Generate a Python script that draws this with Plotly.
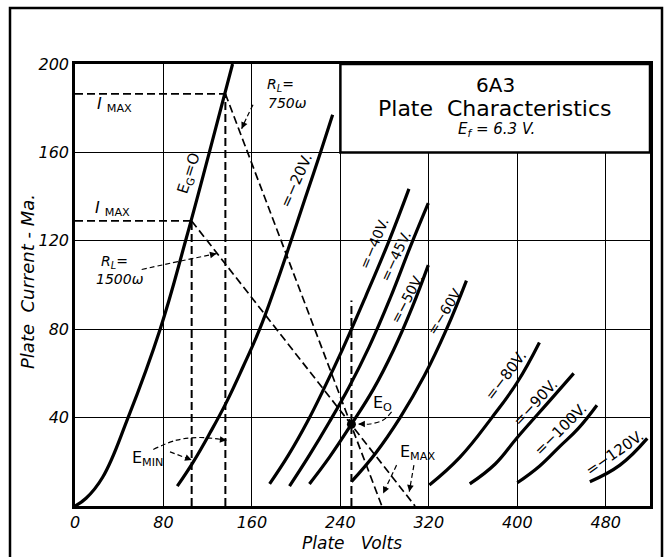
import plotly.graph_objects as go
import math

# ---------------- data ----------------
x_ticks = [0, 80, 160, 240, 320, 400, 480]
y_ticks = [40, 80, 120, 160, 200]

eg0_v = [0, 10, 25, 48, 77, 100, 121.5, 142.5]
eg0_ma = [0, 3.5, 13, 40, 80, 120, 160, 200]

eg20_v = [92.5, 107, 122, 137, 152, 167, 181, 194, 208, 222, 233]
eg20_ma = [9, 20, 33, 47, 63, 80, 99, 118, 139, 160, 177]

eg40_v = [176, 193, 210, 226, 242, 263, 284, 302]
eg40_ma = [10, 23, 38, 54, 71, 95, 120, 143.5]

eg45_v = [194, 212, 230, 248, 266, 285, 303, 319.5]
eg45_ma = [9, 23, 38, 54, 72, 94, 117, 137]

eg50_v = [212, 230, 250, 270, 288, 305, 319.5]
eg50_ma = [10, 22, 37, 53, 70.5, 90, 109]

eg60_v = [250, 272, 294, 316, 336, 354]
eg60_ma = [11, 24, 40, 59, 80, 102]

eg80_v = [320.5, 348, 377, 400, 420]
eg80_ma = [9.5, 22, 40, 56, 74]

eg90_v = [357, 380, 400, 430, 451]
eg90_ma = [10, 19, 31, 48, 60]

eg100_v = [400, 420, 438.5, 455, 472]
eg100_ma = [10.5, 18, 27, 35, 45.6]

eg120_v = [465.6, 492.8, 517.5]
eg120_ma = [11, 18.5, 30.6]

load1500_v = [105.5, 250, 307.5]
load1500_ma = [129, 37, 0]
load750_v = [136, 250, 277.5]
load750_ma = [186.5, 37, 0]

imax_1500 = 129
imax_750 = 186.5
emin_1500 = 105.5
emin_750 = 136
e0_v = 250
e0_ma = 37
e0_line_top = 93

# ---------------- layout geometry ----------------
W, H = 669, 557
ML, MR, MT, MB = 75, 19, 64, 51
PW, PH = W - ML - MR, H - MT - MB
XMAX, YMAX = 520, 200
PXV = PW / XMAX
PXM = PH / YMAX

FONT = "DejaVu Sans"
fig = go.Figure()

curve_line = dict(color="black", width=3.2, shape="spline", smoothing=1.2)
for xs, ys in [(eg0_v, eg0_ma), (eg20_v, eg20_ma), (eg40_v, eg40_ma), (eg45_v, eg45_ma),
               (eg50_v, eg50_ma), (eg60_v, eg60_ma), (eg80_v, eg80_ma), (eg90_v, eg90_ma),
               (eg100_v, eg100_ma), (eg120_v, eg120_ma)]:
    fig.add_trace(go.Scatter(x=xs, y=ys, mode="lines", line=curve_line, hoverinfo="skip"))

dash_line = dict(color="black", width=1.7, dash="8px,4px")
# load lines
fig.add_trace(go.Scatter(x=load1500_v, y=load1500_ma, mode="lines", line=dash_line))
fig.add_trace(go.Scatter(x=load750_v, y=load750_ma, mode="lines", line=dash_line))
# I max horizontals
fig.add_trace(go.Scatter(x=[0, emin_1500], y=[imax_1500, imax_1500], mode="lines", line=dash_line))
fig.add_trace(go.Scatter(x=[0, emin_750], y=[imax_750, imax_750], mode="lines", line=dash_line))
# verticals
vert_line = dict(color="black", width=2, dash="8px,4px")
fig.add_trace(go.Scatter(x=[emin_1500, emin_1500], y=[0, imax_1500], mode="lines", line=vert_line))
fig.add_trace(go.Scatter(x=[emin_750, emin_750], y=[0, imax_750], mode="lines", line=vert_line))
fig.add_trace(go.Scatter(x=[e0_v, e0_v], y=[0, e0_line_top], mode="lines", line=vert_line))
# operating point
fig.add_trace(go.Scatter(x=[e0_v], y=[e0_ma], mode="markers",
                         marker=dict(color="black", size=9)))

# dashed pointer paths (annotation leaders)
thin_dash = dict(color="black", width=1.2, dash="5px,3px", shape="spline")
pointer_paths = [
    ([161, 156, 150.7], [181.6, 176.5, 170.7]),                  # R_L = 750
    ([60.3, 95, 128], [107, 110.8, 114.2]),                       # R_L = 1500
    ([286.3, 278.8, 266.7, 256.2], [42.6, 38.9, 37.1, 37.1]),     # E0
    ([290.8, 278.7], [18.5, 5.7]),                                # Emax 1
    ([306.5, 302.3], [18.5, 6.5]),                                # Emax 2
    ([85.9, 105.5], [24.5, 20.8]),                                # Emin 1
    ([70.8, 91.9, 113, 137], [25.6, 29.8, 31, 29.8]),             # Emin 2
]
annotations = []
for xs, ys in pointer_paths:
    fig.add_trace(go.Scatter(x=xs, y=ys, mode="lines", line=thin_dash, hoverinfo="skip"))
    xe, ye, xp, yp = xs[-1], ys[-1], xs[-2], ys[-2]
    dx = (xp - xe) * PXV
    dy = -(yp - ye) * PXM
    n = math.hypot(dx, dy)
    annotations.append(dict(x=xe, y=ye, xref="x", yref="y", ax=dx / n * 7, ay=dy / n * 7,
                            showarrow=True, arrowhead=2, arrowsize=1.1, arrowwidth=1.2,
                            arrowcolor="black", text="", standoff=0))

def txt(x, y, s, size=15, angle=0, style="normal", xanchor="center"):
    annotations.append(dict(x=x, y=y, xref="x", yref="y", text=s, showarrow=False,
                            textangle=angle, xanchor=xanchor, yanchor="middle",
                            font=dict(family=FONT, size=size, color="black", style=style)))

# curve labels
txt(103, 150.5, "E<sub>G</sub>=O", 15, -72)
txt(200, 147, "=−20V.", 15, -66)
txt(270.5, 119, "=−40V.", 14, -67)
txt(290, 113, "=−45V.", 14, -65)
txt(300.5, 94, "=−50V.", 14, -62)
txt(335, 88.6, "=−60V.", 14, -58)
txt(389, 59, "=−80V.", 15, -53)
txt(416, 46.5, "=−90V.", 15, -47)
txt(439.5, 34.8, "=−100V.", 15, -45)
txt(488, 24.2, "=−120V.", 15, -35)

# other labels
txt(36, 181.5, "<i>I</i> <sub>MAX</sub>", 16)
txt(34, 134.5, "<i>I</i> <sub>MAX</sub>", 16)
txt(186, 190.6, "R<sub>L</sub>=", 14, style="italic")
txt(192, 182.5, "750ω", 14, style="italic")
txt(36, 110.6, "R<sub>L</sub>=", 14, style="italic")
txt(41, 102.6, "1500ω", 14, style="italic")
txt(278.5, 46.5, "E<sub>O</sub>", 16)
txt(310, 24.4, "E<sub>MAX</sub>", 16)
txt(66, 21.7, "E<sub>MIN</sub>", 16)

# title block text
txt(380, 190.5, "6A3", 20)
txt(380, 179.8, "Plate  Characteristics", 22)
txt(381, 170.5, "E<sub>f</sub> = 6.3 V.", 15, style="italic")

# axis titles (paper coords)
annotations.append(dict(x=(352 - ML) / PW, y=(MT + PH - 543) / PH, xref="paper", yref="paper",
                        text="Plate   Volts", showarrow=False, yanchor="middle",
                        font=dict(family=FONT, size=17, color="black", style="italic")))
annotations.append(dict(x=(27 - ML) / PW, y=(MT + PH - 281) / PH, xref="paper", yref="paper",
                        text="Plate  Current - Ma.", showarrow=False, textangle=-90,
                        xanchor="center", yanchor="middle",
                        font=dict(family=FONT, size=18, color="black", style="italic")))

shapes = [
    # title box
    dict(type="rect", xref="x", yref="y", x0=240, x1=XMAX, y0=160, y1=YMAX,
         fillcolor="white", line=dict(color="black", width=2.5), layer="above"),
    # outer frame
    dict(type="rect", xref="paper", yref="paper",
         x0=(10 - ML) / PW, x1=(662 - ML) / PW,
         y0=(MT + PH - 562) / PH, y1=(MT + PH - 8) / PH,
         line=dict(color="black", width=2.5), layer="above"),
]

axis_common = dict(showgrid=True, gridcolor="black", gridwidth=1, zeroline=False,
                   showline=True, linecolor="black", linewidth=2.5, mirror=True,
                   ticks="", tickfont=dict(family=FONT, size=16, color="black", style="italic"),
                   fixedrange=True)

fig.update_layout(
    width=W, height=H,
    margin=dict(l=ML, r=MR, t=MT, b=MB),
    paper_bgcolor="white", plot_bgcolor="white",
    showlegend=False,
    xaxis=dict(axis_common, range=[0, XMAX], tickvals=x_ticks),
    yaxis=dict(axis_common, range=[0, YMAX], tickvals=y_ticks),
    annotations=annotations,
    shapes=shapes,
)

fig.write_html("out.html", config={"displayModeBar": False},
               post_script="document.body.style.margin='0';document.body.style.overflow='hidden';")
